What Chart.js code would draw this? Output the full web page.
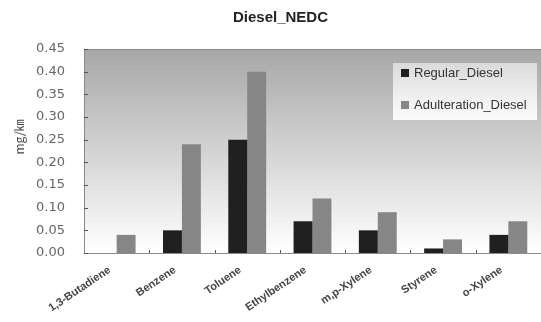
<!DOCTYPE html>
<html lang="en">
<head>
    <title>Diesel_NEDC</title>
    <script src="https://cdn.jsdelivr.net/npm/chart.js@4.4.0/dist/chart.umd.min.js"></script>
    <style>
        html, body { margin: 0; padding: 0; background: #fff; }
        #wrap { width: 541px; height: 322px; }
    </style>
</head>
<body>
<div id="wrap"><canvas id="myChart"></canvas></div>
<script>
// data
var compounds = ['1,3-Butadiene', 'Benzene', 'Toluene', 'Ethylbenzene', 'm,p-Xylene', 'Styrene', 'o-Xylene'];
var regularDiesel = [0, 0.05, 0.25, 0.07, 0.05, 0.01, 0.04];
var adulterationDiesel = [0.04, 0.24, 0.40, 0.12, 0.09, 0.03, 0.07];
var yTicks = [0, 0.05, 0.10, 0.15, 0.20, 0.25, 0.30, 0.35, 0.40, 0.45];
var chartTitle = 'Diesel_NEDC';
var yTitle = 'mg/㎞';

// gray gradient behind the bars + frame lines + little inward tick marks
const plotBack = {
    id: 'plotBack',
    beforeDatasetsDraw(chart) {
        const ctx = chart.ctx, a = chart.chartArea;
        const g = ctx.createLinearGradient(0, a.top, 0, a.bottom);
        g.addColorStop(0, '#a7a7a7');
        g.addColorStop(1, '#ffffff');
        ctx.save();
        ctx.fillStyle = g;
        ctx.fillRect(a.left, a.top, a.right - a.left, a.bottom - a.top);
        ctx.strokeStyle = '#8a8a8a';
        ctx.lineWidth = 1;
        ctx.beginPath();
        ctx.moveTo(a.left + 0.5, a.bottom + 0.5);
        ctx.lineTo(a.left + 0.5, a.top + 0.5);
        ctx.lineTo(a.right, a.top + 0.5);
        ctx.moveTo(a.left, a.bottom + 0.5);
        ctx.lineTo(a.right, a.bottom + 0.5);
        ctx.stroke();
        // y ticks, pointing into the plot
        ctx.strokeStyle = '#555';
        const ys = chart.scales.y;
        yTicks.forEach(function (v) {
            const py = Math.round(ys.getPixelForValue(v)) + 0.5;
            ctx.beginPath();
            ctx.moveTo(a.left, py);
            ctx.lineTo(a.left + 4, py);
            ctx.stroke();
        });
        // x ticks between categories
        const xs = chart.scales.x;
        for (var i = 1; i < compounds.length; i++) {
            const px = Math.round((xs.getPixelForValue(i - 1) + xs.getPixelForValue(i)) / 2) + 0.5;
            ctx.beginPath();
            ctx.moveTo(px, a.bottom);
            ctx.lineTo(px, a.bottom - 3);
            ctx.stroke();
        }
        ctx.restore();
    }
};

// title, y title, slanted category names and the legend box
const textBits = {
    id: 'textBits',
    afterDatasetsDraw(chart) {
        const ctx = chart.ctx, a = chart.chartArea;
        ctx.save();

        ctx.fillStyle = '#222';
        ctx.font = 'bold 15px "Liberation Sans", Arial, sans-serif';
        ctx.textAlign = 'center';
        ctx.textBaseline = 'middle';
        ctx.fillText(chartTitle, chart.width / 2 + 10, 18);

        ctx.save();
        ctx.translate(19, a.top + 88);
        ctx.rotate(-Math.PI / 2);
        ctx.fillStyle = '#444';
        ctx.font = '12px "Noto Sans CJK KR", "Liberation Sans", sans-serif';
        ctx.fillText(yTitle, 0, 0);
        ctx.restore();

        // category labels
        const xs = chart.scales.x;
        ctx.fillStyle = '#444';
        ctx.font = 'bold 11px "Liberation Sans", Arial, sans-serif';
        ctx.textAlign = 'right';
        compounds.forEach(function (name, i) {
            const px = xs.getPixelForValue(i);
            ctx.save();
            ctx.translate(px - 7, a.bottom + 16);
            ctx.rotate(-34 * Math.PI / 180);
            ctx.fillText(name, 0, 0);
            ctx.restore();
        });

        // legend box
        const x = a.right - 148, y = a.top + 14, w = 144, h = 57;
        const g = ctx.createLinearGradient(0, y, 0, y + h);
        g.addColorStop(0, 'rgba(255,255,255,0.55)');
        g.addColorStop(1, 'rgba(255,255,255,0.92)');
        ctx.fillStyle = g;
        ctx.fillRect(x, y, w, h);
        ctx.font = '13px "Liberation Sans", Arial, sans-serif';
        ctx.textAlign = 'left';
        chart.data.datasets.forEach(function (ds, i) {
            const ly = y + 10 + i * 32;
            ctx.fillStyle = ds.backgroundColor;
            ctx.fillRect(x + 8, ly - 4, 8, 8);
            ctx.fillStyle = '#333';
            ctx.fillText(ds.label, x + 21, ly);
        });
        ctx.restore();
    }
};

const ctx = document.getElementById('myChart').getContext('2d');
const myChart = new Chart(ctx, {
    type: 'bar',
    data: {
        labels: compounds,
        datasets: [{
            label: 'Regular_Diesel',
            data: regularDiesel,
            backgroundColor: '#202020'
        }, {
            label: 'Adulteration_Diesel',
            data: adulterationDiesel,
            backgroundColor: '#868686'
        }]
    },
    options: {
        responsive: true,
        maintainAspectRatio: false,
        animation: false,
        layout: { padding: { left: 0, right: 0, top: 49, bottom: 0 } },
        datasets: {
            bar: { categoryPercentage: 0.58, barPercentage: 1.0 }
        },
        plugins: {
            legend: { display: false },
            tooltip: { enabled: false },
            title: { display: false }
        },
        scales: {
            x: {
                grid: { display: false, drawTicks: false },
                border: { display: false },
                ticks: { display: false },
                afterFit: function (scale) { scale.height = 69; }
            },
            y: {
                min: 0,
                max: 0.45,
                grid: { display: false, drawTicks: false },
                border: { display: false },
                afterBuildTicks: function (scale) {
                    scale.ticks = yTicks.map(function (v) { return { value: v }; });
                },
                ticks: {
                    padding: 19,
                    color: '#666',
                    font: { family: '"DejaVu Sans", sans-serif', size: 13 },
                    callback: function (v) { return Number(v).toFixed(2); }
                },
                afterFit: function (scale) { scale.width = 84; }
            }
        }
    },
    plugins: [plotBack, textBits]
});
</script>
</body>
</html>
